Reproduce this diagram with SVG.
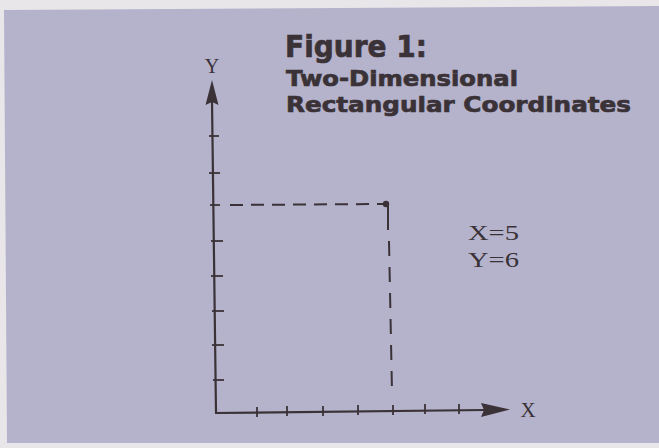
<svg xmlns="http://www.w3.org/2000/svg" width="659" height="448" viewBox="0 0 659 448">
  <style>
    .title { font-family: "DejaVu Sans", "Liberation Sans", sans-serif; font-weight: bold; fill: #3a3237; stroke: #3a3237; stroke-width: 0.7; }
    .serif { font-family: "Liberation Serif", "DejaVu Serif", serif; fill: #3a3237; }
    .axis { stroke: #3a3237; stroke-width: 2.2; fill: none; }
    .tick { stroke: #3a3237; stroke-width: 1.8; }
    .dash { stroke: #3a3237; stroke-width: 2; fill: none; }
  </style>
  <rect x="0" y="0" width="659" height="448" fill="#e9e6ea"/>
  <polygon points="4,10 659,6 659,443 7,443" fill="#b5b3cb"/>

  <g id="title">
    <text class="title" x="285" y="57" font-size="31" textLength="142" lengthAdjust="spacingAndGlyphs">Figure 1:</text>
    <text class="title" x="286" y="86" font-size="22" textLength="232" lengthAdjust="spacingAndGlyphs">Two-Dimensional</text>
    <text class="title" x="286" y="112" font-size="22" textLength="345" lengthAdjust="spacingAndGlyphs">Rectangular Coordinates</text>
  </g>

  <g id="y-axis">
    <line class="axis" x1="212" y1="100" x2="216" y2="413"/>
    <polygon points="212,80 205.5,105 212,102 218.5,105" fill="#3a3237"/>
    <text class="serif" x="212" y="73" font-size="20" text-anchor="middle">Y</text>
    <g class="tick">
      <line x1="209" y1="136" x2="219" y2="136"/>
      <line x1="209" y1="173" x2="220" y2="173"/>
      <line x1="210" y1="205" x2="220" y2="205"/>
      <line x1="211" y1="241" x2="223" y2="241"/>
      <line x1="211" y1="276" x2="223" y2="276"/>
      <line x1="212" y1="311" x2="224" y2="311"/>
      <line x1="212" y1="345" x2="224" y2="345"/>
      <line x1="213" y1="380" x2="224" y2="380"/>
    </g>
  </g>

  <g id="x-axis">
    <line class="axis" x1="215" y1="413" x2="484" y2="410"/>
    <polygon points="510,409.5 481,403 484,410 481,417" fill="#3a3237"/>
    <text class="serif" x="528" y="417" font-size="21" text-anchor="middle">X</text>
    <g class="tick">
      <line x1="257" y1="407" x2="257" y2="417"/>
      <line x1="287" y1="406" x2="287" y2="416"/>
      <line x1="323" y1="406" x2="323" y2="416"/>
      <line x1="358" y1="405" x2="358" y2="415"/>
      <line x1="393" y1="405" x2="393" y2="415"/>
      <line x1="425" y1="404" x2="425" y2="414"/>
      <line x1="459" y1="404" x2="459" y2="414"/>
    </g>
  </g>

  <g id="connectors">
    <path class="dash" d="M230,205 L385,204" stroke-dasharray="13,8"/>
    <path class="dash" d="M388,204 L388,230"/>
    <path class="dash" d="M389,241 L392,392" stroke-dasharray="15,11"/>
    <circle cx="386" cy="204" r="3.2" fill="#3a3237"/>
  </g>

  <g id="values">
    <text class="serif" x="468" y="240" font-size="22" textLength="51" lengthAdjust="spacingAndGlyphs">X=5</text>
    <text class="serif" x="468" y="267" font-size="22" textLength="51" lengthAdjust="spacingAndGlyphs">Y=6</text>
  </g>
</svg>
